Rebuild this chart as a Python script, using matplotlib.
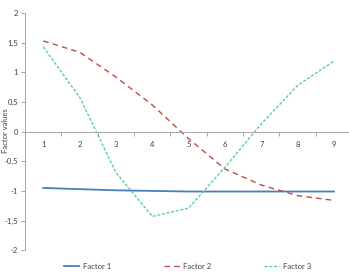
import matplotlib
matplotlib.use('Agg')
import matplotlib.pyplot as plt
from matplotlib.ticker import FixedLocator, FuncFormatter

plt.rcParams['font.family'] = ['Lato', 'DejaVu Sans']

# data
x = [1, 2, 3, 4, 5, 6, 7, 8, 9]
factor1 = [-0.95, -0.97, -0.99, -1.0, -1.01, -1.01, -1.01, -1.01, -1.01]
factor2 = [1.53, 1.34, 0.92, 0.45, -0.12, -0.63, -0.9, -1.08, -1.16]
factor3 = [1.43, 0.58, -0.69, -1.43, -1.29, -0.6, 0.13, 0.78, 1.19]
yticks = [-2, -1.5, -1, -0.5, 0, 0.5, 1, 1.5, 2]

axis_col = '#a6a6a6'
txt_col = '#404040'

fig = plt.figure(figsize=(3.49, 2.78), dpi=100)
ax = fig.add_axes([0.072, 0.1, 0.937, 0.853])

ax.plot(x, factor1, color='#4a7ebb', lw=1.3, label='Factor 1')
ax.plot(x, factor2, color='#be4b48', lw=1.0, dashes=(4, 3), label='Factor 2')
ax.plot(x, factor3, color='#5ccf9c', lw=1.0, dashes=(2.2, 1.2), label='Factor 3')

ax.set_xlim(0.5, 9.5)
ax.set_ylim(-2, 2)

for s in ['top', 'right']:
    ax.spines[s].set_visible(False)
ax.spines['left'].set_color(axis_col)
ax.spines['left'].set_linewidth(0.7)
ax.spines['bottom'].set_position(('data', 0))
ax.spines['bottom'].set_color(axis_col)
ax.spines['bottom'].set_linewidth(0.7)

ax.set_yticks(yticks)
ax.yaxis.set_major_formatter(FuncFormatter(lambda v, p: ('%g' % v).replace('.', ',')))
ax.tick_params(axis='y', length=3, width=0.7, color=axis_col, labelsize=5.5,
               labelcolor=txt_col, pad=2)

ax.set_xticks(x)
ax.xaxis.set_minor_locator(FixedLocator([i + 0.5 for i in range(0, 10)]))
ax.tick_params(axis='x', which='major', length=0, labelsize=5.5, labelcolor=txt_col, pad=7)
ax.tick_params(axis='x', which='minor', length=3, width=0.7, color=axis_col)

# y label placed by hand so it stays inside the figure
fig.text(6 / 349, 0.529, 'Factor values', rotation=90, ha='center', va='center',
         fontsize=5.5, color=txt_col)

fig.legend(loc='center', bbox_to_anchor=(0.537, 0.043), ncol=3, frameon=False,
           fontsize=5.5, handlelength=2.0, columnspacing=7.0, handletextpad=0.4,
           labelcolor=txt_col)

fig.savefig('out.png', dpi=100)
